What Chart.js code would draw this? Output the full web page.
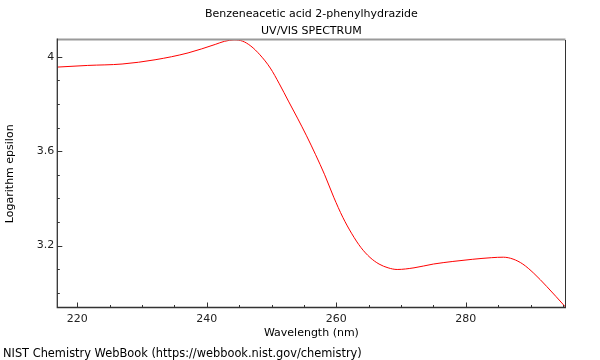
<!DOCTYPE html>
<html>
<head>
<meta charset="utf-8">
<script src="https://cdn.jsdelivr.net/npm/chart.js@4/dist/chart.umd.min.js"></script>
<style>
html,body{margin:0;padding:0;background:#fff;}
canvas{display:block;}
</style>
</head>
<body>
<canvas id="c" width="600" height="360"></canvas>
<script>
// ---- data ----
const wavelengths = [216.9, 221.6, 226.9, 232.0, 237.1, 241.3, 242.7, 244.2, 245.5, 246.8,
                     248.2, 249.8, 251.2, 252.6, 254.0, 255.4, 256.8, 258.2, 259.6, 261.0,
                     262.4, 263.8, 265.2, 266.6, 268.0, 269.4, 272.0, 275.0, 278.0, 281.0,
                     284.0, 285.8, 287.3, 288.8, 290.5, 292.5, 295.4];
const logEpsilon = [3.956, 3.963, 3.969, 3.987, 4.016, 4.052, 4.065, 4.071, 4.066, 4.045,
                    4.008, 3.952, 3.885, 3.812, 3.740, 3.665, 3.585, 3.500, 3.405, 3.320,
                    3.250, 3.192, 3.150, 3.122, 3.106, 3.099, 3.106, 3.122, 3.133, 3.142,
                    3.149, 3.151, 3.143, 3.122, 3.083, 3.027, 2.940];
const xTickValues = [220,225,230,235,240,245,250,255,260,265,270,275,280,285,290,295];
const xTickLabels = ['220','','','','240','','','','260','','','','280','','',''];
const yTickValues = [3.0,3.1,3.2,3.3,3.4,3.5,3.6,3.7,3.8,3.9,4.0];
const yTickLabels = ['','','3.2','','','','3.6','','','','4'];
const titleLines = ['Benzeneacetic acid 2-phenylhydrazide', 'UV/VIS SPECTRUM'];
const xTitle = 'Wavelength (nm)';
const yTitle = 'Logarithm epsilon';
const footer = 'NIST Chemistry WebBook (https://webbook.nist.gov/chemistry)';

const FONT = 'DejaVu Sans';

const framePlugin = {
  id: 'frame',
  afterDraw(chart) {
    const {ctx, chartArea: a, scales} = chart;
    const xs = scales.x, ys = scales.y;
    ctx.save();
    // tick marks (inside)
    ctx.strokeStyle = '#333';
    ctx.lineWidth = 1;
    xTickValues.forEach((v, i) => {
      const px = Math.round(xs.getPixelForValue(v)) + 0.5;
      const len = xTickLabels[i] ? 5 : 2.5;
      ctx.beginPath(); ctx.moveTo(px, a.bottom); ctx.lineTo(px, a.bottom - len); ctx.stroke();
    });
    yTickValues.forEach((v, i) => {
      const py = Math.round(ys.getPixelForValue(v)) + 0.5;
      const len = yTickLabels[i] ? 5 : 2.5;
      ctx.beginPath(); ctx.moveTo(a.left, py); ctx.lineTo(a.left + len, py); ctx.stroke();
    });
    // frame
    ctx.strokeStyle = '#9a9a9a';
    ctx.lineWidth = 2;
    ctx.beginPath(); ctx.moveTo(a.left, a.top - 0.5); ctx.lineTo(a.right, a.top - 0.5); ctx.stroke();
    ctx.strokeStyle = '#333';
    ctx.lineWidth = 1;
    ctx.beginPath(); ctx.moveTo(a.right, a.top); ctx.lineTo(a.right, a.bottom); ctx.stroke();
    ctx.lineWidth = 1.3;
    ctx.beginPath(); ctx.moveTo(a.left, a.top - 1.5); ctx.lineTo(a.left, a.bottom); ctx.lineTo(a.right + 0.5, a.bottom); ctx.stroke();
    // titles
    ctx.fillStyle = '#000';
    ctx.font = '11px "' + FONT + '"';
    ctx.textAlign = 'center';
    ctx.textBaseline = 'alphabetic';
    const cx = (a.left + a.right) / 2;
    ctx.fillText(titleLines[0], cx, 17.3);
    ctx.fillText(titleLines[1], cx, 34.3);
    // footer
    ctx.font = '11.4px "' + FONT + '"';
    ctx.textAlign = 'left';
    ctx.fillText(footer, 3, 356.5);
    ctx.restore();
  }
};

new Chart(document.getElementById('c'), {
  type: 'line',
  data: {
    datasets: [{
      data: wavelengths.map((w, i) => ({x: w, y: logEpsilon[i]})),
      borderColor: '#ff0000',
      borderWidth: 1,
      pointRadius: 0,
      fill: false,
      cubicInterpolationMode: 'monotone'
    }]
  },
  options: {
    responsive: false,
    animation: false,
    devicePixelRatio: 1,
    layout: {padding: {top: 40, left: 0, right: 34.5, bottom: 18}},
    plugins: {legend: {display: false}, tooltip: {enabled: false}, title: {display: false}},
    scales: {
      x: {
        type: 'linear', min: 216.9, max: 295.4,
        afterBuildTicks: s => { s.ticks = xTickValues.map(v => ({value: v})); },
        afterFit: s => { s.height = 34.5; },
        grid: {display: false, drawTicks: false},
        border: {display: false},
        ticks: {
          autoSkip: false, maxRotation: 0, padding: 5, color: '#222',
          font: {family: FONT, size: 11},
          callback: (v) => { const i = xTickValues.indexOf(v); return i >= 0 ? xTickLabels[i] : ''; }
        },
        title: {display: true, text: xTitle, color: '#000', font: {family: FONT, size: 11}, padding: {top: 4, bottom: 2.4}}
      },
      y: {
        type: 'linear', min: 2.938, max: 4.0707,
        afterBuildTicks: s => { s.ticks = yTickValues.map(v => ({value: v})); },
        afterFit: s => { s.width = 57.3; },
        grid: {display: false, drawTicks: false},
        border: {display: false},
        ticks: {
          autoSkip: false, padding: 3, color: '#222',
          font: {family: FONT, size: 11},
          callback: (v) => { const i = yTickValues.findIndex(t => Math.abs(t - v) < 1e-6); return i >= 0 ? yTickLabels[i] : ''; }
        },
        title: {display: true, text: yTitle, color: '#000', font: {family: FONT, size: 11}, padding: {top: 4, bottom: 4}}
      }
    }
  },
  plugins: [framePlugin]
});
</script>
</body>
</html>
